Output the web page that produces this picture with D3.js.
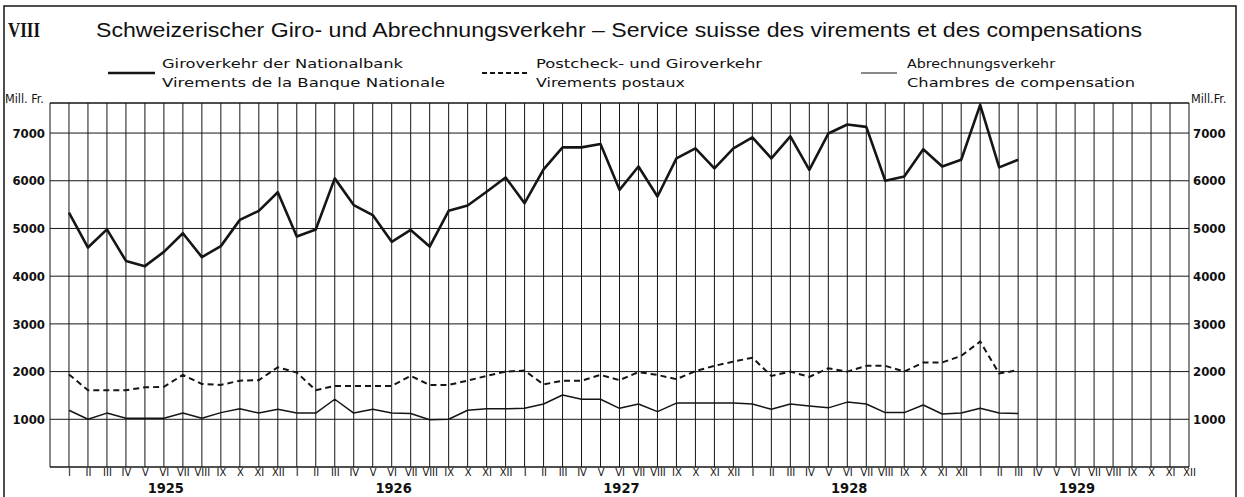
<!DOCTYPE html>
<html>
<head>
<meta charset="utf-8">
<script src="https://cdn.jsdelivr.net/npm/d3@7"></script>
<style>
  body { margin: 0; background: #fff; }
  svg { display: block; }
  text { fill: #111; }
</style>
</head>
<body>
<svg id="chart" width="1244" height="497"></svg>
<script>
// month labels and years
var monthLabels = ["I","II","III","IV","V","VI","VII","VIII","IX","X","XI","XII"];
var years = [1925, 1926, 1927, 1928, 1929];
var yTicks = [1000, 2000, 3000, 4000, 5000, 6000, 7000];

// Mill. Fr., monthly from Jan 1925 to Mar 1929
var giroNB = [5330,4600,4980,4320,4210,4510,4900,4400,4630,5180,5370,5760,
              4830,4980,6050,5490,5280,4720,4970,4620,5370,5480,5770,6070,
              5530,6240,6700,6700,6770,5810,6300,5670,6470,6680,6260,6680,
              6910,6470,6930,6230,6990,7180,7130,6000,6090,6660,6300,6440,
              7590,6280,6440];
var postcheck = [1940,1610,1610,1610,1670,1680,1930,1740,1720,1810,1820,2090,
                 1980,1610,1700,1700,1700,1700,1910,1720,1720,1810,1910,2000,
                 2020,1730,1810,1810,1930,1820,1990,1930,1840,2010,2120,2210,
                 2290,1910,2000,1890,2070,2000,2120,2120,2000,2190,2190,2330,
                 2630,1960,2030];
var abrechnung = [1190,1000,1130,1020,1020,1020,1130,1020,1140,1220,1130,1210,
                  1130,1130,1420,1130,1210,1130,1120,990,1000,1190,1220,1220,
                  1230,1320,1510,1420,1420,1230,1320,1160,1340,1340,1340,1340,
                  1320,1210,1320,1280,1240,1360,1320,1140,1140,1300,1110,1130,
                  1230,1130,1120];

var svg = d3.select("#chart");
var ink = "#151515";
var nMonths = years.length * 12;

var x = d3.scaleLinear().domain([-1, nMonths - 1]).range([50, 1189]);
var y = d3.scaleLinear().domain([0, 7630]).range([467, 103]);

// outer frame (left, top, right edges)
svg.append("path")
  .attr("d", "M4,497V6H1236V497")
  .attr("fill", "none").attr("stroke", ink).attr("stroke-width", 1.5);

// titles
svg.append("text")
  .attr("x", 8).attr("y", 37)
  .attr("textLength", 32).attr("lengthAdjust", "spacingAndGlyphs")
  .style("font-family", "Liberation Serif").style("font-weight", "bold")
  .style("font-size", "22px")
  .text("VIII");

svg.append("text")
  .attr("x", 96).attr("y", 37)
  .attr("textLength", 1046).attr("lengthAdjust", "spacingAndGlyphs")
  .style("font-family", "Liberation Sans").style("font-size", "19.5px")
  .text("Schweizerischer Giro- und Abrechnungsverkehr \u2013 Service suisse des virements et des compensations");

// legend
var legend = [
  {x1: 108, x2: 155, tx: 162, w: 2.6, dash: null,  l1: "Giroverkehr der Nationalbank", l2: "Virements de la Banque Nationale", w1: 241, w2: 283},
  {x1: 482, x2: 528, tx: 536, w: 1.8, dash: "5,3", l1: "Postcheck- und Giroverkehr", l2: "Virements postaux", w1: 226, w2: 149},
  {x1: 861, x2: 897, tx: 907, w: 1.2, dash: null,  l1: "Abrechnungsverkehr", l2: "Chambres de compensation", w1: 148, w2: 228}
];
legend.forEach(function(d) {
  svg.append("line")
    .attr("x1", d.x1).attr("x2", d.x2).attr("y1", 73).attr("y2", 73)
    .attr("stroke", ink).attr("stroke-width", d.w)
    .attr("stroke-dasharray", d.dash);
  svg.append("text").attr("x", d.tx).attr("y", 68)
    .attr("textLength", d.w1).attr("lengthAdjust", "spacingAndGlyphs")
    .style("font-family", "DejaVu Sans").style("font-size", "13px")
    .text(d.l1);
  svg.append("text").attr("x", d.tx).attr("y", 87)
    .attr("textLength", d.w2).attr("lengthAdjust", "spacingAndGlyphs")
    .style("font-family", "DejaVu Sans").style("font-size", "13px")
    .text(d.l2);
});

var g = svg.append("g");

// vertical grid, one line per month
g.selectAll(".vgrid")
  .data(d3.range(-1, nMonths))
  .enter().append("line")
    .attr("x1", function(d) { return x(d); })
    .attr("x2", function(d) { return x(d); })
    .attr("y1", y.range()[1]).attr("y2", y.range()[0])
    .attr("stroke", ink).attr("stroke-width", 1);

// horizontal grid
g.selectAll(".hgrid")
  .data([0].concat(yTicks))
  .enter().append("line")
    .attr("x1", x(-1)).attr("x2", x(nMonths - 1))
    .attr("y1", function(d) { return y(d); })
    .attr("y2", function(d) { return y(d); })
    .attr("stroke", ink).attr("stroke-width", function(d) { return d === 0 ? 1.6 : 1; });

// top border
g.append("line")
  .attr("x1", x(-1)).attr("x2", x(nMonths - 1))
  .attr("y1", y.range()[1]).attr("y2", y.range()[1])
  .attr("stroke", ink).attr("stroke-width", 1.4);

// y axis labels, left and right
var leftAxis = d3.axisLeft(y).tickValues(yTicks).tickSize(0).tickPadding(5).tickFormat(d3.format("d"));
var rightAxis = d3.axisRight(y).tickValues(yTicks).tickSize(0).tickPadding(4).tickFormat(d3.format("d"));
[svg.append("g").attr("transform", "translate(" + x(-1) + ",0)").call(leftAxis),
 svg.append("g").attr("transform", "translate(" + x(nMonths - 1) + ",0)").call(rightAxis)]
  .forEach(function(ax) {
    ax.select(".domain").remove();
    ax.selectAll("text")
      .style("font-family", "DejaVu Sans Condensed").style("font-weight", "bold")
      .style("font-size", "13px").attr("fill", ink);
  });

svg.append("text").attr("x", 5).attr("y", 103)
  .style("font-family", "DejaVu Sans Condensed").style("font-size", "12.5px")
  .text("Mill. Fr.");
svg.append("text").attr("x", 1191).attr("y", 103)
  .style("font-family", "DejaVu Sans Condensed").style("font-size", "12.5px")
  .text("Mill.Fr.");

// month labels along bottom
var xAxis = d3.axisBottom(x)
  .tickValues(d3.range(0, nMonths))
  .tickSize(0).tickPadding(1.5)
  .tickFormat(function(d) { return monthLabels[d % 12]; });
var xg = svg.append("g").attr("transform", "translate(0," + y(0) + ")").call(xAxis);
xg.select(".domain").remove();
xg.selectAll("text")
  .style("font-family", "DejaVu Sans Condensed").style("font-size", "11px")
  .attr("fill", ink);

// years
svg.selectAll(".year")
  .data(years)
  .enter().append("text")
    .attr("x", function(d, i) { return x(i * 12 + 5.1); })
    .attr("y", 493)
    .attr("text-anchor", "middle")
    .style("font-family", "DejaVu Sans Condensed").style("font-weight", "bold")
    .style("font-size", "14.5px")
    .text(function(d) { return d; });

// series
var line = d3.line()
  .x(function(d, i) { return x(i); })
  .y(function(d) { return y(d); });

svg.append("path").datum(abrechnung)
  .attr("d", line).attr("fill", "none")
  .attr("stroke", ink).attr("stroke-width", 1.5).attr("stroke-linejoin", "round");

svg.append("path").datum(postcheck)
  .attr("d", line).attr("fill", "none")
  .attr("stroke", ink).attr("stroke-width", 2).attr("stroke-dasharray", "6,4");

svg.append("path").datum(giroNB)
  .attr("d", line).attr("fill", "none")
  .attr("stroke", ink).attr("stroke-width", 2.6).attr("stroke-linejoin", "round");
</script>
</body>
</html>
